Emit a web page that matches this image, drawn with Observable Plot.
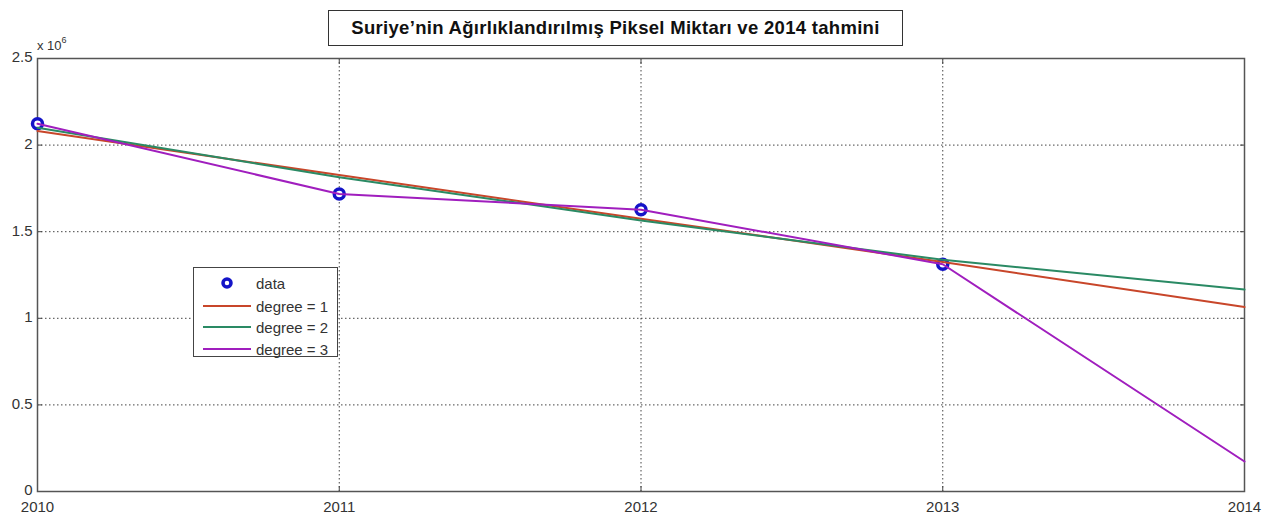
<!DOCTYPE html>
<html>
<head>
<meta charset="utf-8">
<script src="https://cdn.jsdelivr.net/npm/d3@7"></script>
<script src="https://cdn.jsdelivr.net/npm/@observablehq/plot@0.6"></script>
<style>
  html, body { margin: 0; padding: 0; background: #fff; }
  #wrap { position: relative; width: 1275px; height: 518px; font-family: "Liberation Sans", Arial, sans-serif; }
  #title { position: absolute; left: 328px; top: 10px; width: 575px; height: 36px; border: 1.5px solid #333; box-sizing: border-box;
           display: flex; align-items: center; justify-content: center; font-weight: bold; font-size: 18.5px; letter-spacing: 0.3px; color: #111; background: #fff; }
  #expo { position: absolute; left: 37px; top: 37px; font-size: 13px; color: #333; }
  #expo sup { font-size: 9px; position: relative; top: -2px; }
  #legend { position: absolute; left: 193px; top: 267px; width: 145px; height: 90px; border: 1.5px solid #444; box-sizing: border-box; background: #fff; }
  .row { position: absolute; left: 0; height: 20px; display: flex; align-items: center; font-size: 15px; color: #333; }
  .row svg { margin-left: 9px; margin-right: 5px; }
</style>
</head>
<body>
<div id="wrap">
  <div id="chart"></div>
  <div id="title"></div>
  <div id="expo">x 10<sup>6</sup></div>
  <div id="legend"></div>
</div>
<script>
const titleText = "Suriye’nin Ağırlıklandırılmış Piksel Miktarı ve 2014 tahmini";
const dataYears = [2010, 2011, 2012, 2013];
const dataValues = [2123000, 1718000, 1627000, 1312000];
const fitYears = [2010, 2011, 2012, 2013, 2014];
const degree1 = [2081000, 1827000, 1575000, 1325000, 1065000];
const degree2 = [2100000, 1815000, 1565000, 1338000, 1166000];
const degree3 = [2123000, 1718000, 1627000, 1312000, 173000];
const xTicks = [2010, 2011, 2012, 2013, 2014];
const yTicks = [0, 0.5, 1, 1.5, 2, 2.5];
const yTickLabels = ["0", "0.5", "1", "1.5", "2", "2.5"];
const seriesNames = ["data", "degree = 1", "degree = 2", "degree = 3"];
const colors = ["#1414c8", "#c8462a", "#2a8a64", "#a01ebe"];

const dots = dataYears.map((yr, i) => ({year: yr, v: dataValues[i] / 1e6}));
const fits = [degree1, degree2, degree3].map(arr => fitYears.map((yr, i) => ({year: yr, v: arr[i] / 1e6})));

const plot = Plot.plot({
  width: 1275, height: 518,
  marginLeft: 37, marginRight: 31, marginTop: 58, marginBottom: 27,
  style: {fontFamily: '"Liberation Sans", Arial, sans-serif', fontSize: "15px", color: "#333", background: "#fff"},
  x: {domain: [2010, 2014]},
  y: {domain: [0, 2.5]},
  marks: [
    Plot.gridX(xTicks.slice(1, -1), {stroke: "#444", strokeOpacity: 1, strokeDasharray: "1.5,2.5"}),
    Plot.gridY(yTicks.slice(1, -1), {stroke: "#444", strokeOpacity: 1, strokeDasharray: "1.5,2.5"}),
    Plot.axisX({anchor: "bottom", ticks: xTicks, tickFormat: d => String(d), tickSize: 0, tickPadding: 10, label: null}),
    Plot.axisY({anchor: "left", ticks: yTicks, tickFormat: d => yTickLabels[yTicks.indexOf(d)], tickSize: 0, tickPadding: 5, dy: -1, label: null}),
    Plot.axisX({anchor: "bottom", ticks: xTicks, tickFormat: () => "", tickSize: 5, dy: -5, stroke: "#444", label: null}),
    Plot.axisX({anchor: "top", ticks: xTicks, tickFormat: () => "", tickSize: 5, dy: 5, stroke: "#444", label: null}),
    Plot.axisY({anchor: "left", ticks: yTicks, tickFormat: () => "", tickSize: 5, dx: 5, stroke: "#444", label: null}),
    Plot.axisY({anchor: "right", ticks: yTicks, tickFormat: () => "", tickSize: 5, dx: -5, stroke: "#444", label: null}),
    Plot.frame({stroke: "#555", strokeWidth: 1.5}),
    Plot.dot(dots, {x: "year", y: "v", r: 5, stroke: colors[0], strokeWidth: 3.5, fill: "white"}),
    ...fits.map((f, i) => Plot.line(f, {x: "year", y: "v", stroke: colors[i + 1], strokeWidth: 2}))
  ]
});
document.getElementById("chart").appendChild(plot);
document.getElementById("title").textContent = titleText;

const legend = document.getElementById("legend");
const rowTops = [5, 28, 49, 71];
seriesNames.forEach((name, i) => {
  const row = document.createElement("div");
  row.className = "row";
  row.style.top = rowTops[i] + "px";
  const sw = i === 0
    ? `<svg width="48" height="14"><circle cx="24" cy="7" r="4" fill="white" stroke="${colors[0]}" stroke-width="3.5"/></svg>`
    : `<svg width="48" height="14"><line x1="0" x2="48" y1="7" y2="7" stroke="${colors[i]}" stroke-width="2"/></svg>`;
  row.innerHTML = sw + `<span>${name}</span>`;
  legend.appendChild(row);
});
</script>
</body>
</html>
